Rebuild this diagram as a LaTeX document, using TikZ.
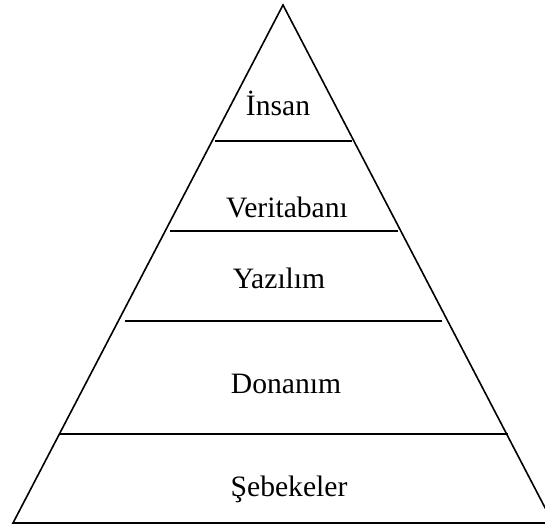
\documentclass[tikz,border=0pt]{standalone}
\usepackage{fontspec}
\setmainfont{Liberation Serif}
\usetikzlibrary{calc}

\begin{document}
\begin{tikzpicture}[x=1pt, y=-1pt, line width=1.6pt, line join=miter]
    % Define colours
    \definecolor{borderColour}{HTML}{000000}

    % Label style
    \tikzset{layerLabel/.style={anchor=base, inner sep=0pt, text=borderColour, font=\fontsize{29.6}{35}\selectfont}}

    % Fix the canvas (the right corner runs off the edge)
    \useasboundingbox (0,0) rectangle (545,525);
    \clip (0,0) rectangle (545,525);

    % Corners of the pyramid
    \coordinate (apex) at (283,5);
    \coordinate (baseL) at (13,523);
    \coordinate (baseR) at (553,523);

    % Draw the pyramid
    \draw[borderColour] (apex) -- (baseL) -- (baseR) -- cycle;

    % Draw the layer separators
    \foreach \y/\xl/\xr [count=\i] in {141/215/352, 231/170/398, 321/125/442, 434/59/508} {
        \coordinate (sepL\i) at (\xl,\y);
        \coordinate (sepR\i) at (\xr,\y);
        \draw[borderColour] (sepL\i) -- (sepR\i);
    }

    % Label the layers
    \node[layerLabel] (insan) at (278,115) {İnsan};
    \node[layerLabel] (veritabani) at (287,217) {Veritabanı};
    \node[layerLabel] (yazilim) at (279,288) {Yazılım};
    \node[layerLabel] (donanim) at (286,393) {Donanım};
    \node[layerLabel] (sebekeler) at (289,496) {Şebekeler};

\end{tikzpicture}
\end{document}
